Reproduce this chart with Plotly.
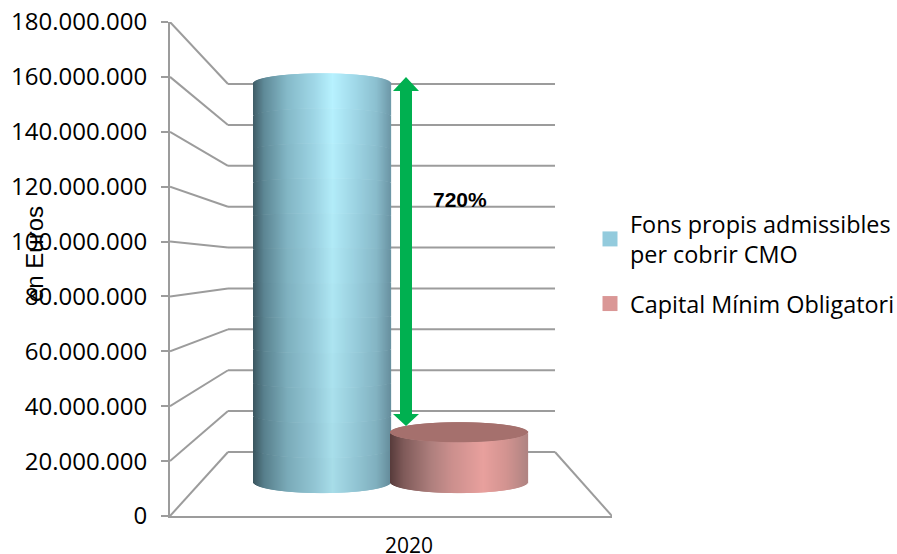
import numpy as np
import plotly.graph_objects as go

# ---- data ----
categories = ["2020"]
series_names = ["Fons propis admissibles<br>per cobrir CMO", "Capital Mínim Obligatori"]
fons_propis = [168000000]
capital_minim = [21000000]
tick_values = [0, 20000000, 40000000, 60000000, 80000000, 100000000,
               120000000, 140000000, 160000000, 180000000]
ratio_label = "720%"
axis_title = "en Euros"

# ---- look of the 3-D box ----
W, H = 940, 575                         # canvas a little larger than the window: room for the legend box
L, R, T, B = 170, 612, 22, 516          # front plane of the plot box, px in the window
BACK_L, BACK_R, BACK_B, BACK_SCALE = 228, 555, 452, 0.7449
GRID = "#9c9c9c"
FONT_A = "Open Sans"
FONT_B = "Liberation Sans"
YMAX = tick_values[-1]
Y_PER_PX = YMAX / (B - T)


def project(depth, value):
    """Oblique projection of (depth, value) to the y value of the flat axis."""
    scale = 1 - depth * (1 - BACK_SCALE)
    return value * scale + depth * (B - BACK_B) * Y_PER_PX


def hex2rgb(c):
    return np.array([int(c[i:i + 2], 16) for i in (1, 3, 5)], float)


def gradient(stops, t, k=1.0):
    xs = [s[0] for s in stops]
    rgb = np.array([hex2rgb(s[1]) for s in stops])
    col = [np.interp(t, xs, rgb[:, i]) * k for i in range(3)]
    return "#%02x%02x%02x" % tuple(int(min(255, round(c))) for c in col)


BLUE = [(0, "#3f5c66"), (.08, "#5f8a98"), (.25, "#85bac9"), (.45, "#a0d8e8"),
        (.58, "#b7f2ff"), (.75, "#a0d8e8"), (.9, "#8cc0d0"), (1, "#6f9aaa")]
RED = [(0, "#573b3b"), (.1, "#7f5a59"), (.3, "#ae7f7d"), (.45, "#cb8f8d"),
       (.68, "#e8a09d"), (.85, "#d29390"), (1, "#b08482")]
CAP_RED = "#a5706d"


def cylinder(value, x0, x1, stops, name, cap_color=None, shade=0.0, segs=1):
    depth = 0.53
    semi_top = 10 * Y_PER_PX
    semi_bot = 11 * Y_PER_PX
    y_base = project(depth, 0)
    y_top = project(depth, value)
    xs, bases, heights, colors = [], [], [], []
    for x in np.arange(x0, x1, 1.0) + 0.5:
        t = (x - x0) / (x1 - x0)
        arc = np.sqrt(max(0, 1 - (2 * t - 1) ** 2))
        low = y_base - semi_bot * arc
        up_front = y_top - semi_top * arc
        up_back = y_top + semi_top * arc
        top = up_front if cap_color else up_back
        edges = np.linspace(low, top, segs + 1)
        for s in range(segs):
            v = (edges[s] + edges[s + 1]) / 2
            k = 1 - shade * (1 - min(1, max(0, (v - y_base) / (y_top - y_base))))
            xs.append(x)
            bases.append(edges[s])
            heights.append(edges[s + 1] - edges[s])
            colors.append(gradient(stops, t, k))
        if cap_color:
            xs.append(x)
            bases.append(up_front)
            heights.append(up_back - up_front)
            colors.append(cap_color)
    return go.Bar(x=xs, y=heights, base=bases, width=1.25,
                  marker=dict(color=colors, line=dict(width=0)),
                  name=name, showlegend=False, hoverinfo="skip")


fig = go.Figure()
fig.add_trace(cylinder(fons_propis[0], 254, 391, BLUE, series_names[0], shade=0.09, segs=12))
fig.add_trace(cylinder(capital_minim[0], 391, 528, RED, series_names[1], cap_color=CAP_RED))

for i, (name, color) in enumerate(zip(series_names, ["#93cbdd", "#da9796"])):
    fig.add_trace(go.Scatter(x=[None], y=[None], mode="markers", name=name, legendgroup=f"g{i}",
                             marker=dict(symbol="square", size=15, color=color)))

# back wall and side wall lines, below the cylinders
shapes = []
line = dict(color=GRID, width=2)
for v in tick_values:
    y_back = project(1, v)
    shapes.append(dict(type="line", layer="below", xref="x", yref="y", x0=L, x1=BACK_L,
                       y0=v, y1=y_back, line=line))
    shapes.append(dict(type="line", layer="below", xref="x", yref="y", x0=BACK_L, x1=BACK_R,
                       y0=y_back, y1=y_back, line=line))
shapes.append(dict(type="line", layer="below", xref="x", yref="y", x0=BACK_R, x1=R,
                   y0=project(1, 0), y1=0, line=line))

# double-headed green arrow between the two tops
ax, shaft, head = 406, 6, 13
a_top = 160000000
a_bot = 32800000
dy_top = 14 * Y_PER_PX
dy_bot = 12 * Y_PER_PX
path = (f"M{ax},{a_top} L{ax + head},{a_top - dy_top} L{ax + shaft},{a_top - dy_top} "
        f"L{ax + shaft},{a_bot + dy_bot} L{ax + head},{a_bot + dy_bot} L{ax},{a_bot} "
        f"L{ax - head},{a_bot + dy_bot} L{ax - shaft},{a_bot + dy_bot} "
        f"L{ax - shaft},{a_top - dy_top} L{ax - head},{a_top - dy_top} Z")
shapes.append(dict(type="path", layer="above", xref="x", yref="y", path=path,
                   fillcolor="#00b050", line=dict(width=0)))

fig.update_layout(
    width=W, height=H,
    margin=dict(l=L, r=W - R, t=T, b=H - B, pad=0),
    paper_bgcolor="white", plot_bgcolor="rgba(0,0,0,0)",
    barmode="overlay", separators=",.",
    shapes=shapes,
    xaxis=dict(range=[L, R], tickmode="array", tickvals=[409], ticktext=categories,
               automargin=False, ticklabeloverflow="allow",
               showgrid=False, zeroline=False, showline=True, linecolor=GRID, linewidth=2,
               ticks="", ticklabelstandoff=10,
               tickfont=dict(family=FONT_A, size=21, color="#000000")),
    yaxis=dict(range=[0, YMAX], tickmode="array", tickvals=tick_values, tickformat=",d",
               automargin=False, ticklabeloverflow="allow",
               showgrid=False, zeroline=False, showline=True, linecolor=GRID, linewidth=2,
               ticks="outside", ticklen=7, tickwidth=2, tickcolor=GRID, ticklabelstandoff=9,
               tickfont=dict(family=FONT_A, size=24, color="#000000")),
    legend=dict(x=(590 - L) / (R - L), y=(B - 202) / (B - T),
                xanchor="left", yanchor="top",
                bgcolor="rgba(0,0,0,0)", font=dict(family=FONT_A, size=23.4, color="#000000"),
                tracegroupgap=16, itemclick=False, itemdoubleclick=False),
    annotations=[
        dict(text=ratio_label, xref="x", yref="y", x=459.5, y=(B - 199) * Y_PER_PX, showarrow=False,
             font=dict(family=FONT_B, size=21, color="#000000", weight="bold")),
        dict(text=axis_title, xref="paper", yref="y", x=(34 - L) / (R - L), y=(B - 254) * Y_PER_PX,
             xanchor="center", yanchor="middle",
             textangle=-90, showarrow=False,
             font=dict(family=FONT_B, size=24, color="#000000")),
    ],
)

fig.write_html("out.html", config={"displayModeBar": False},
               post_script="document.body.style.margin='0';document.body.style.overflow='hidden';"
                           "document.documentElement.style.overflow='hidden';")
